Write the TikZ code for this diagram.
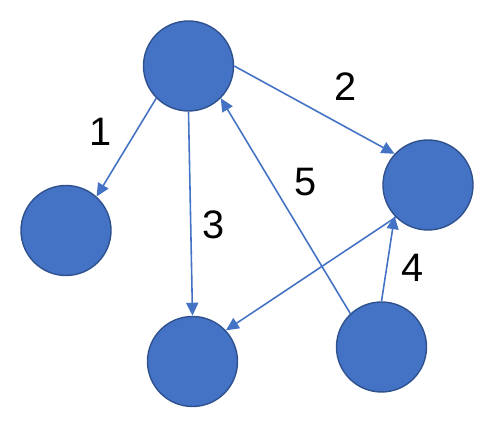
\documentclass[tikz,border=0pt]{standalone}
\usepackage{fontspec}
\setmainfont{Liberation Sans}
\usepackage{xcolor}
\usetikzlibrary{arrows.meta}
\definecolor{officeblue}{HTML}{4472C4}
\definecolor{officeedge}{HTML}{2F528F}

\begin{document}
\begin{tikzpicture}[
  >={Triangle[length=2.6mm, width=2.4mm]},
  vtx/.style={circle, fill=officeblue, draw=officeedge, line width=0.8pt, minimum size=1.8cm, inner sep=0pt},
  lbl/.style={inner sep=0pt, text=black, font=\fontsize{22.6}{24}\selectfont},
  every path/.style={->, officeblue, line width=0.9pt},
]
\useasboundingbox (0,0) rectangle (10.04,8.44);
% nodes
\node[vtx] (T) at (3.77,7.12) {};
\node[vtx] (L) at (1.32,3.83) {};
\node[vtx] (R) at (8.56,4.74) {};
\node[vtx] (M) at (3.85,1.21) {};
\node[vtx] (B) at (7.63,1.50) {};
% edge labels
\node[lbl] (l1) at (2.01,5.80) {1};
\node[lbl] (l2) at (6.92,6.70) {2};
\node[lbl] (l3) at (4.27,3.95) {3};
\node[lbl] (l4) at (8.26,3.08) {4};
\node[lbl] (l5) at (6.11,4.80) {5};
% edges
\draw (T.225) -- (L.48);
\draw (T.0) -- (R.137);
\draw (T.270) -- (M.90);
\draw (B.90) -- (R.223);
\draw (B.133) -- (T.315);
\draw (R.225) -- (M.43);
\end{tikzpicture}
\end{document}
